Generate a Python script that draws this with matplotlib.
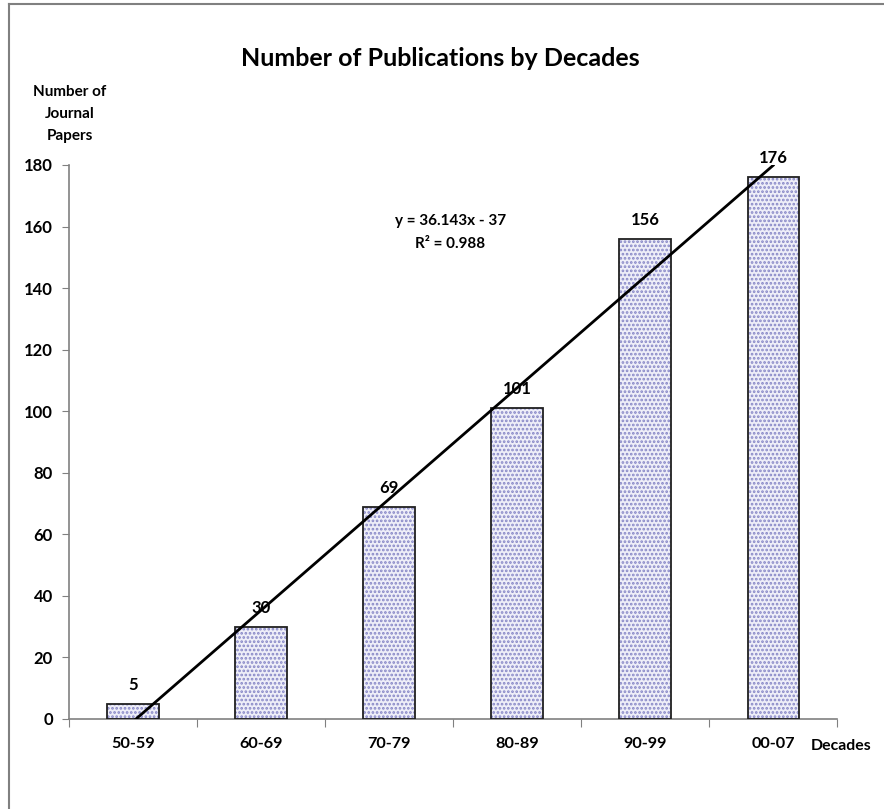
"""
Number of publications by decades - bar chart with linear trend line
"""
import matplotlib
matplotlib.use('Agg')
import matplotlib.pyplot as plt
import numpy as np

DECADES = ['50-59', '60-69', '70-79', '80-89', '90-99', '00-07']
PAPERS = [5, 30, 69, 101, 156, 176]
Y_TICKS = [0, 20, 40, 60, 80, 100, 120, 140, 160, 180]

plt.rcParams['font.family'] = ['Lato', 'DejaVu Sans']
plt.rcParams['font.weight'] = 'bold'
plt.rcParams['hatch.linewidth'] = 1.3


def main():
    """
    build the chart and save it
    :return:
    """
    fig = plt.figure(figsize=(8.84, 8.09), dpi=100)
    ax = fig.add_axes([0.078, 0.1113, 0.869, 0.6848])

    # chart border (left and top visible only)
    fig.add_artist(plt.Line2D([9 / 884, 9 / 884], [0, 1 - 4 / 809],
                              color='#808080', lw=1.5, transform=fig.transFigure))
    fig.add_artist(plt.Line2D([9 / 884, 1], [1 - 4 / 809, 1 - 4 / 809],
                              color='#808080', lw=1.5, transform=fig.transFigure))

    x = np.arange(len(DECADES))
    # dotted fill, then black outline
    ax.bar(x, PAPERS, width=0.4, color='#eeeef8', edgecolor='#8686c6',
           hatch='....', linewidth=0, zorder=2)
    ax.bar(x, PAPERS, width=0.4, facecolor='none', edgecolor='#202020',
           linewidth=1.3, zorder=3)

    for xi, val in zip(x, PAPERS):
        ax.text(xi, val + 3.5, str(val), ha='center', va='bottom',
                fontsize=12, fontweight='bold')

    # linear trend (Excel style, x = 1..n)
    slope, intercept = np.polyfit(x + 1, PAPERS, 1)
    ax.plot(x, slope * (x + 1) + intercept, color='black', lw=2, zorder=4)
    ax.text(2.48, 161.8, f'y = {slope:.3f}x - {abs(intercept):.0f}',
            ha='center', va='center', fontsize=11, fontweight='bold')
    r2 = np.corrcoef(x + 1, PAPERS)[0, 1] ** 2
    ax.text(2.48, 154.2, f'R² = {r2:.3f}', ha='center', va='center',
            fontsize=11, fontweight='bold')

    ax.set_xlim(-0.5, len(DECADES) - 0.5)
    ax.set_ylim(0, 180)
    ax.set_yticks(Y_TICKS)
    ax.set_yticklabels([str(t) for t in Y_TICKS], fontsize=12, fontweight='bold')
    ax.set_xticks(np.arange(len(DECADES) + 1) - 0.5)
    ax.set_xticklabels([])
    ax.set_xticks(x, minor=True)
    ax.set_xticklabels(DECADES, minor=True, fontsize=11.7, fontweight='bold')
    ax.tick_params(axis='x', which='major', length=6, color='#808080', direction='out')
    ax.tick_params(axis='x', which='minor', length=0, pad=13)
    ax.tick_params(axis='y', length=5, color='#808080', direction='out', pad=6.5)

    for side in ['top', 'right']:
        ax.spines[side].set_visible(False)
    for side in ['left', 'bottom']:
        ax.spines[side].set_color('#808080')
        ax.spines[side].set_linewidth(1.2)

    fig.text(440 / 884, 1 - 58 / 809, 'Number of Publications by Decades',
             ha='center', va='center', fontsize=18, fontweight='bold')
    fig.text(70 / 884, 1 - 114 / 809, 'Number of\nJournal\nPapers',
             ha='center', va='center', fontsize=11, fontweight='bold',
             linespacing=1.75)
    fig.text(871 / 884, 1 - 746 / 809, 'Decades', ha='right', va='center',
             fontsize=11.4, fontweight='bold')

    fig.savefig('out.png', dpi=100)


if __name__ == "__main__":
    main()
